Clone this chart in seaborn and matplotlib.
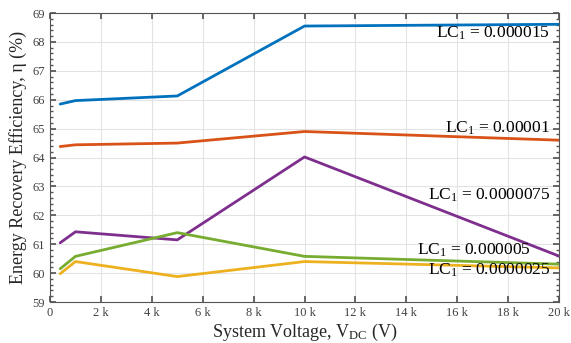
import numpy as np
import pandas as pd
import matplotlib
matplotlib.use("Agg")
import matplotlib.pyplot as plt
import seaborn as sns
from matplotlib.ticker import FuncFormatter, MultipleLocator

# data
voltage = [400, 1000, 5000, 10000, 20000]
lc_labels = ["0.000015", "0.00001", "0.0000075", "0.000005", "0.0000025"]
eff_15 = [65.85, 65.97, 66.13, 68.55, 68.61]
eff_10 = [64.38, 64.44, 64.50, 64.90, 64.60]
eff_75 = [61.05, 61.43, 61.15, 64.02, 60.59]
eff_5 = [60.15, 60.58, 61.40, 60.58, 60.31]
eff_25 = [59.98, 60.40, 59.88, 60.40, 60.18]
colors = ["#0072BD", "#D95319", "#7E2F8E", "#77AC30", "#EDB120"]

# label positions (right edge x, y)
label_x = [19650, 19650, 19650, 18900, 19650]
label_y = [68.3, 65.0, 62.7, 60.8, 60.1]

series = [eff_15, eff_10, eff_75, eff_5, eff_25]
df = pd.DataFrame({
    "V": voltage * len(series),
    "eff": sum(series, []),
    "LC": np.repeat(lc_labels, len(voltage)),
})

sns.set_theme(style="whitegrid")
plt.rcParams["font.family"] = ["Liberation Serif", "DejaVu Serif"]
plt.rcParams["mathtext.fontset"] = "custom"
plt.rcParams["mathtext.rm"] = "Liberation Serif"
plt.rcParams["mathtext.it"] = "Liberation Serif:italic"

fig = plt.figure(figsize=(5.71, 3.43), dpi=100)
ax = fig.add_axes([0.0876, 0.1195, 0.8914, 0.8425])

sns.lineplot(data=df, x="V", y="eff", hue="LC", hue_order=lc_labels,
             palette=colors, linewidth=2, legend=False, ax=ax)

for lab, x, y in zip(lc_labels, label_x, label_y):
    ax.text(x, y, r"LC$_1$ = " + lab, ha="right", va="center",
            fontsize=12.5, color="black")

ax.set_xlim(0, 20000)
ax.set_ylim(59, 69)
ax.xaxis.set_major_locator(MultipleLocator(2000))
ax.xaxis.set_major_formatter(FuncFormatter(lambda v, p: "0" if v == 0 else f"{v/1000:.0f} k"))
ax.yaxis.set_major_locator(MultipleLocator(1))
ax.yaxis.set_minor_locator(MultipleLocator(0.2))

ax.set_facecolor("white")
ax.grid(True, which="major", color="#e3e3e3", linewidth=0.8)
for s in ax.spines.values():
    s.set_visible(True)
    s.set_color("#555555")
    s.set_linewidth(0.8)
ax.tick_params(axis="both", which="both", direction="in", colors="#555555",
               labelcolor="#404040", labelsize=9, top=True, right=True,
               bottom=True, left=True)
ax.tick_params(which="major", length=4)
ax.tick_params(which="minor", length=2)

ax.set_xlabel(r"System Voltage, V$_{\rm DC}$ (V)", fontsize=13, labelpad=2)
ax.set_ylabel("Energy Recovery Efficiency, η (%)", fontsize=13, labelpad=4)

fig.savefig("out.png", dpi=100)
